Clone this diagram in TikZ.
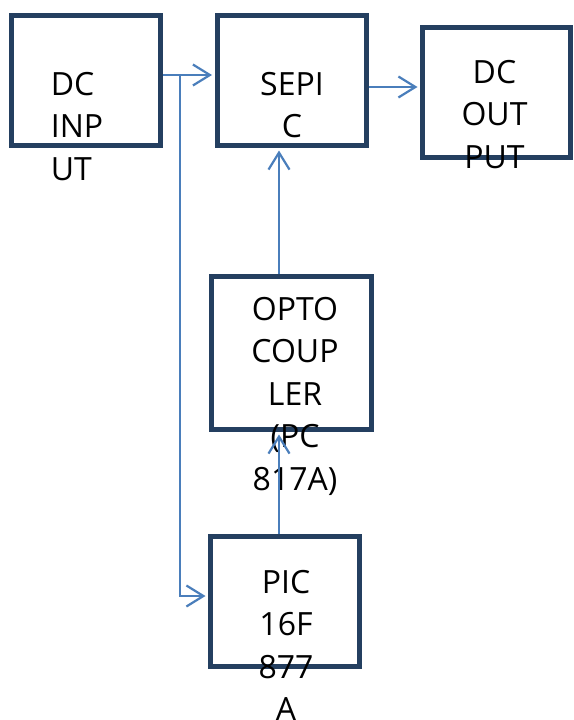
\documentclass[tikz,border=0pt]{standalone}
\usepackage{fontspec}
\setmainfont{Open Sans}
\usepackage{tikz}
\usetikzlibrary{positioning,arrows.meta,calc}
\definecolor{cBox}{HTML}{243F60}
\definecolor{cWire}{HTML}{4A7EBB}
\tikzset{
  blk/.style={rectangle, draw=cBox, line width=5pt, fill=white, inner sep=0pt},
  txt/.style={font=\fontsize{32}{42.5}\selectfont, inner sep=0pt, align=center, text=black},
  ar/.style={-{Straight Barb[length=17pt, width=21pt]}, line width=2.2pt, cWire, shorten >=2.5pt},
}
\begin{document}
\begin{tikzpicture}[x=1pt, y=1pt]
  \useasboundingbox (0,0) rectangle (573,-720);
  % blocks
  \node[blk, minimum width=149pt, minimum height=130pt] (inp) at (86,-80.5) {};
  \node[blk, minimum width=149pt, minimum height=130pt] (sepic) at (291.5,-80.5) {};
  \node[blk, minimum width=148pt, minimum height=130pt] (outp) at (496.5,-92.5) {};
  \node[blk, minimum width=159.5pt, minimum height=153.5pt] (opto) at (291.25,-352.75) {};
  \node[blk, minimum width=149pt, minimum height=130pt] (pic) at (285,-601) {};
  % texts
  \node[txt, align=left, anchor=north west] (inptxt) at (50.7,-72) {DC\\INP\\UT};
  \node[txt, anchor=north] (sepictxt) at (292,-72) {SEPI\\C};
  \node[txt, anchor=north] (outptxt) at (494.5,-60) {DC\\OUT\\PUT};
  \node[txt, anchor=north] (optotxt) at (295,-297) {OPTO\\COUP\\LER\\(PC\\817A)};
  \node[txt, anchor=north] (pictxt) at (286,-570) {PIC\\16F\\877\\A};
  % wires
  \coordinate (tap) at (180,-75);
  \coordinate (so) at ([yshift=-6.5pt]sepic.east);
  \coordinate (ox) at (279,0);
  \draw[ar] (tap -| inp.east) -- (tap -| sepic.west);
  \draw[ar] (tap) |- ([yshift=5pt]pic.west);
  \draw[ar] (so) -- (so -| outp.west);
  \draw[ar] (ox |- opto.north) -- (ox |- sepic.south);
  \draw[ar] (ox |- pic.north) -- (ox |- opto.south);
\end{tikzpicture}
\end{document}
